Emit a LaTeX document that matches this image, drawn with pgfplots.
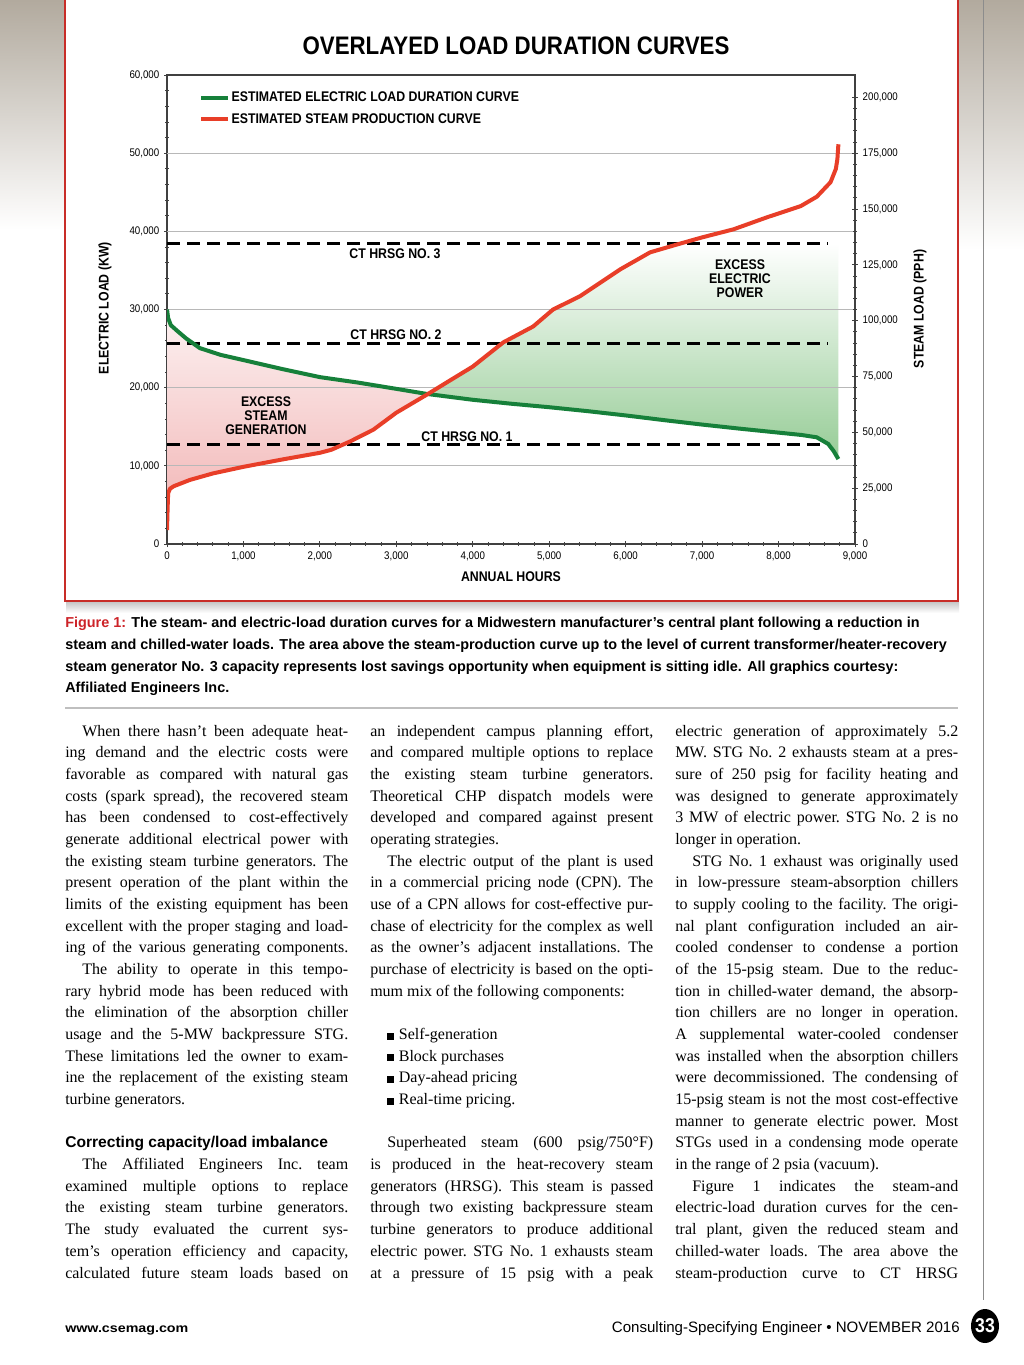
\documentclass[border=0pt]{standalone}
\usepackage{fontspec}
\setmainfont{Liberation Serif}
\newfontfamily\sans{Liberation Sans}
\newfontfamily\cond[FakeStretch=0.88]{Liberation Sans}
\newfontfamily\wide[FakeStretch=1.15]{Liberation Sans}
\usepackage{pgfplots}
\pgfplotsset{compat=1.18}
\usepackage{pgfplotstable}

\definecolor{elecgreen}{RGB}{22,128,58}
\definecolor{steamred}{RGB}{232,62,40}
\definecolor{framered}{RGB}{200,45,40}
\definecolor{pinkbot}{RGB}{242,178,178}
\definecolor{pinktop}{RGB}{252,242,242}
\definecolor{greenbot}{RGB}{150,204,150}
\definecolor{figred}{RGB}{205,35,40}
\definecolor{scan}{RGB}{178,170,158}

\newcommand\tickfont{\cond\fontsize{8.3}{9}\selectfont}
\newcommand\legfont{\cond\bfseries\fontsize{10.5}{12}\selectfont}
\newcommand\lblfont{\cond\bfseries\fontsize{10.5}{10.5}\selectfont}
\newcommand\bodyfont{\fontsize{12}{14}\selectfont\frenchspacing}
\newcommand\capfont{\sans\bfseries\fontsize{10.8}{12}\selectfont}

% body text: one node per printed line
\newcommand\Jx[3]{\node[anchor=base west,inner sep=0pt,font=\bodyfont] at ({#1},{736+21.68*(#2-1)}) {\makebox[212.25pt][s]{#3}};}
\newcommand\Lx[3]{\node[anchor=base west,inner sep=0pt,font=\bodyfont] at ({#1},{736+21.68*(#2-1)}) {#3};}
\newcommand\Bx[2]{\node[anchor=base west,inner sep=0pt,font=\bodyfont] at (387,{736+21.68*(#1-1)}) {\rule{5.2pt}{5.2pt}\hspace{3.5pt}#2};}
\newcommand\capline[2]{\node[anchor=base west,inner sep=0pt,font=\capfont] at (65,#1) {#2};}

% electric load duration curve (kW)
\pgfplotstableread{
h kw
0 30000
15 28900
50 28000
130 27300
250 26300
430 25060
700 24200
1000 23530
1500 22400
2000 21350
2500 20650
3000 19850
3400 19200
4000 18450
4500 17950
5000 17500
5500 17000
6000 16450
6500 15850
7000 15280
7500 14750
8000 14250
8300 13950
8500 13650
8650 12800
8720 11900
8783 10870
}\elec

% steam production curve (PPH)
\pgfplotstableread{
h pph
0 6280
8 16000
15 22800
40 24800
90 25900
300 28700
600 31600
1000 34560
1500 37800
2000 40840
2150 42200
2400 46000
2700 51200
3000 58800
3400 66900
3700 73200
4000 79450
4400 90300
4790 97400
5050 105000
5400 110900
5930 123000
6320 130600
6680 134200
7000 137300
7410 140900
7850 146300
8290 151300
8500 155500
8680 162000
8750 168000
8770 172400
8783 179000
}\steam

% excess steam generation area: steam curve (in kW, PPH/3.5) out, electric curve back
\pgfplotstableread{
h kw
0 1794
8 4571
15 6514
40 7086
90 7400
300 8200
600 9029
1000 9874
1500 10800
2000 11669
2150 12057
2400 13143
2700 14629
3000 16800
3400 19114
3415 19180
3000 19850
2500 20650
2000 21350
1500 22400
1000 23530
700 24200
430 25060
250 26300
130 27300
50 28000
15 28900
0 30000
}\pinkarea

% excess electric power area: steam curve up to CT HRSG No. 3, electric curve back
\pgfplotstableread{
h kw
3415 19180
3700 20914
4000 22700
4400 25800
4790 27829
5050 30000
5400 31686
5930 35143
6320 37314
6680 38343
6720 38500
8783 38500
8783 10870
8720 11900
8650 12800
8500 13650
8300 13950
8000 14250
7500 14750
7000 15280
6500 15850
6000 16450
5500 17000
5000 17500
4500 17950
4000 18450
3415 19180
}\greenarea

\begin{document}
\begin{tikzpicture}[x=0.75pt,y=-0.75pt]
\path[use as bounding box] (0,0) rectangle (1024,1365);
\fill[white] (0,0) rectangle (1024,1365);

% scan edges
\shade[top color=scan, bottom color=white] (0,0) rectangle (64,230);
\shade[top color=scan, bottom color=white] (958,0) rectangle (1024,250);
\draw[black!45, line width=0.75pt] (983,0) -- (983,1300);

% figure frame
\shade[top color=black!22, bottom color=white] (66,602) rectangle (959,613);
\fill[white] (65,0) rectangle (957.5,601);
\draw[framered, line width=1.5pt] (65,-10) rectangle (957.5,601);

\begin{axis}[
  scale only axis, width=516pt, height=351.75pt,
  at={(125.25pt,-408pt)}, anchor=south west,
  xmin=0, xmax=9000, ymin=0, ymax=60000,
  axis lines=box, xtick pos=bottom, ytick pos=left,
  xtick={0,1000,...,9000}, ytick={0,10000,...,60000},
  minor x tick num=4, minor y tick num=4,
  scaled ticks=false,
  tick align=center,
  major tick length=4.5pt, minor tick length=2.5pt,
  tick style={black!75, line width=0.6pt},
  axis line style={black!75, line width=0.9pt},
  ticklabel style={font=\tickfont},
  /pgf/number format/fixed, /pgf/number format/precision=0,
  /pgf/number format/1000 sep={,},
  /pgf/number format/assume math mode=true,
  legend style={at={(0.0465,0.968)}, anchor=north west, draw=none, fill=none,
    font=\legfont, row sep=5.5pt, inner sep=0pt, nodes={inner sep=1pt},
    /tikz/every odd column/.append style={column sep=0pt}},
  legend cell align=left,
  legend image code/.code={\draw[#1, line width=3pt] (0pt,0pt) -- (20.25pt,0pt);},
]
% shaded areas
\addplot[draw=none, bottom color=pinkbot, top color=pinktop, forget plot] table[x=h, y=kw] {\pinkarea};
\addplot[draw=none, bottom color=greenbot, top color=white, forget plot] table[x=h, y=kw] {\greenarea};

% horizontal grid lines
\addplot[black!28, line width=0.6pt, forget plot] coordinates {(0,10000) (9000,10000)};
\addplot[black!28, line width=0.6pt, forget plot] coordinates {(0,20000) (9000,20000)};
\addplot[black!28, line width=0.6pt, forget plot] coordinates {(0,30000) (9000,30000)};
\addplot[black!28, line width=0.6pt, forget plot] coordinates {(0,40000) (9000,40000)};
\addplot[black!28, line width=0.6pt, forget plot] coordinates {(0,50000) (9000,50000)};

% CT HRSG capacities
\addplot[black, line width=2.25pt, dash pattern=on 9.75pt off 5.25pt, forget plot] coordinates {(0,38500) (8650,38500)};
\addplot[black, line width=2.25pt, dash pattern=on 9.75pt off 5.25pt, forget plot] coordinates {(0,25600) (8650,25600)};
\addplot[black, line width=2.25pt, dash pattern=on 9.75pt off 5.25pt, forget plot] coordinates {(0,12700) (8650,12700)};

\addplot[elecgreen, line width=3pt, line join=round] table[x=h, y=kw] {\elec};
\addlegendentry{ESTIMATED ELECTRIC LOAD DURATION CURVE}
\addplot[steamred, line width=3pt, line join=round] table[x=h, y expr=\thisrow{pph}/3.5] {\steam};
\addlegendentry{ESTIMATED STEAM PRODUCTION CURVE}
\end{axis}

\begin{axis}[
  scale only axis, width=516pt, height=351.75pt,
  at={(125.25pt,-408pt)}, anchor=south west,
  xmin=0, xmax=9000, ymin=0, ymax=210000,
  axis x line=none, axis y line*=right,
  ytick={0,25000,...,200000}, minor y tick num=4,
  scaled ticks=false,
  tick align=center,
  major tick length=4.5pt, minor tick length=2.5pt,
  tick style={black!75, line width=0.6pt},
  axis line style={black!75, line width=0.9pt},
  ticklabel style={font=\tickfont},
  /pgf/number format/fixed, /pgf/number format/precision=0,
  /pgf/number format/1000 sep={,},
  /pgf/number format/assume math mode=true,
]
\addplot[draw=none] table[x=h, y=pph] {\steam};
\end{axis}

% chart texts
\node[font=\cond\bfseries\fontsize{19}{22}\selectfont] at (516,46) {OVERLAYED LOAD DURATION CURVES};
\node[font=\lblfont] at (395,254) {CT HRSG NO. 3};
\node[font=\lblfont] at (396,335) {CT HRSG NO. 2};
\node[font=\lblfont] at (467,437) {CT HRSG NO. 1};
\node[font=\lblfont, align=center] at (266,416) {EXCESS\\STEAM\\GENERATION};
\node[font=\lblfont, align=center] at (740,279) {EXCESS\\ELECTRIC\\POWER};
\node[font=\lblfont, rotate=90] at (105,308) {ELECTRIC LOAD (KW)};
\node[font=\lblfont, rotate=90] at (920,309) {STEAM LOAD (PPH)};
\node[font=\lblfont] at (511,577) {ANNUAL HOURS};

% caption
\capline{627}{{\color{figred}Figure 1:} The steam- and electric-load duration curves for a Midwestern manufacturer’s central plant following a reduction in}
\capline{649}{steam and chilled-water loads. The area above the steam-production curve up to the level of current transformer/heater-recovery}
\capline{671}{steam generator No. 3 capacity represents lost savings opportunity when equipment is sitting idle. All graphics courtesy:}
\capline{692}{Affiliated Engineers Inc.}
\draw[black!25, line width=1.5pt] (65,708) -- (958,708);

% column 1
\Jx{65}{1}{\hspace*{12.75pt}When there hasn’t been adequate heat-}
\Jx{65}{2}{ing demand and the electric costs were}
\Jx{65}{3}{favorable as compared with natural gas}
\Jx{65}{4}{costs (spark spread), the recovered steam}
\Jx{65}{5}{has been condensed to cost-effectively}
\Jx{65}{6}{generate additional electrical power with}
\Jx{65}{7}{the existing steam turbine generators. The}
\Jx{65}{8}{present operation of the plant within the}
\Jx{65}{9}{limits of the existing equipment has been}
\Jx{65}{10}{excellent with the proper staging and load-}
\Jx{65}{11}{ing of the various generating components.}
\Jx{65}{12}{\hspace*{12.75pt}The ability to operate in this tempo-}
\Jx{65}{13}{rary hybrid mode has been reduced with}
\Jx{65}{14}{the elimination of the absorption chiller}
\Jx{65}{15}{usage and the 5-MW backpressure STG.}
\Jx{65}{16}{These limitations led the owner to exam-}
\Jx{65}{17}{ine the replacement of the existing steam}
\Lx{65}{18}{turbine generators.}
\node[anchor=base west,inner sep=0pt,font=\sans\bfseries\fontsize{11.7}{12}\selectfont] at (65,{736+21.68*19}) {Correcting capacity/load imbalance};
\Jx{65}{21}{\hspace*{12.75pt}The Affiliated Engineers Inc. team}
\Jx{65}{22}{examined multiple options to replace}
\Jx{65}{23}{the existing steam turbine generators.}
\Jx{65}{24}{The study evaluated the current sys-}
\Jx{65}{25}{tem’s operation efficiency and capacity,}
\Jx{65}{26}{calculated future steam loads based on}

% column 2
\Jx{370}{1}{an independent campus planning effort,}
\Jx{370}{2}{and compared multiple options to replace}
\Jx{370}{3}{the existing steam turbine generators.}
\Jx{370}{4}{Theoretical CHP dispatch models were}
\Jx{370}{5}{developed and compared against present}
\Lx{370}{6}{operating strategies.}
\Jx{370}{7}{\hspace*{12.75pt}The electric output of the plant is used}
\Jx{370}{8}{in a commercial pricing node (CPN). The}
\Jx{370}{9}{use of a CPN allows for cost-effective pur-}
\Jx{370}{10}{chase of electricity for the complex as well}
\Jx{370}{11}{as the owner’s adjacent installations. The}
\Jx{370}{12}{purchase of electricity is based on the opti-}
\Lx{370}{13}{mum mix of the following components:}
\Bx{15}{Self-generation}
\Bx{16}{Block purchases}
\Bx{17}{Day-ahead pricing}
\Bx{18}{Real-time pricing.}
\Jx{370}{20}{\hspace*{12.75pt}Superheated steam (600 psig/750°F)}
\Jx{370}{21}{is produced in the heat-recovery steam}
\Jx{370}{22}{generators (HRSG). This steam is passed}
\Jx{370}{23}{through two existing backpressure steam}
\Jx{370}{24}{turbine generators to produce additional}
\Jx{370}{25}{electric power. STG No. 1 exhausts steam}
\Jx{370}{26}{at a pressure of 15 psig with a peak}

% column 3
\Jx{675}{1}{electric generation of approximately 5.2}
\Jx{675}{2}{MW. STG No. 2 exhausts steam at a pres-}
\Jx{675}{3}{sure of 250 psig for facility heating and}
\Jx{675}{4}{was designed to generate approximately}
\Jx{675}{5}{3 MW of electric power. STG No. 2 is no}
\Lx{675}{6}{longer in operation.}
\Jx{675}{7}{\hspace*{12.75pt}STG No. 1 exhaust was originally used}
\Jx{675}{8}{in low-pressure steam-absorption chillers}
\Jx{675}{9}{to supply cooling to the facility. The origi-}
\Jx{675}{10}{nal plant configuration included an air-}
\Jx{675}{11}{cooled condenser to condense a portion}
\Jx{675}{12}{of the 15-psig steam. Due to the reduc-}
\Jx{675}{13}{tion in chilled-water demand, the absorp-}
\Jx{675}{14}{tion chillers are no longer in operation.}
\Jx{675}{15}{A supplemental water-cooled condenser}
\Jx{675}{16}{was installed when the absorption chillers}
\Jx{675}{17}{were decommissioned. The condensing of}
\Jx{675}{18}{15-psig steam is not the most cost-effective}
\Jx{675}{19}{manner to generate electric power. Most}
\Jx{675}{20}{STGs used in a condensing mode operate}
\Lx{675}{21}{in the range of 2 psia (vacuum).}
\Jx{675}{22}{\hspace*{12.75pt}Figure 1 indicates the steam-and}
\Jx{675}{23}{electric-load duration curves for the cen-}
\Jx{675}{24}{tral plant, given the reduced steam and}
\Jx{675}{25}{chilled-water loads. The area above the}
\Jx{675}{26}{steam-production curve to CT HRSG}

% footer
\node[anchor=base west, inner sep=0pt, font=\wide\bfseries\fontsize{9.3}{10}\selectfont] at (65,1332) {www.csemag.com};
\node[anchor=base east, inner sep=0pt, font=\sans\fontsize{11.3}{12}\selectfont] at (960,1332) {Consulting-Specifying Engineer • NOVEMBER 2016};
\fill[black] (985,1326) ellipse [x radius=10.5pt, y radius=12.75pt];
\node[white, font=\cond\bfseries\fontsize{15}{15}\selectfont] at (985,1326) {33};
\end{tikzpicture}
\end{document}
